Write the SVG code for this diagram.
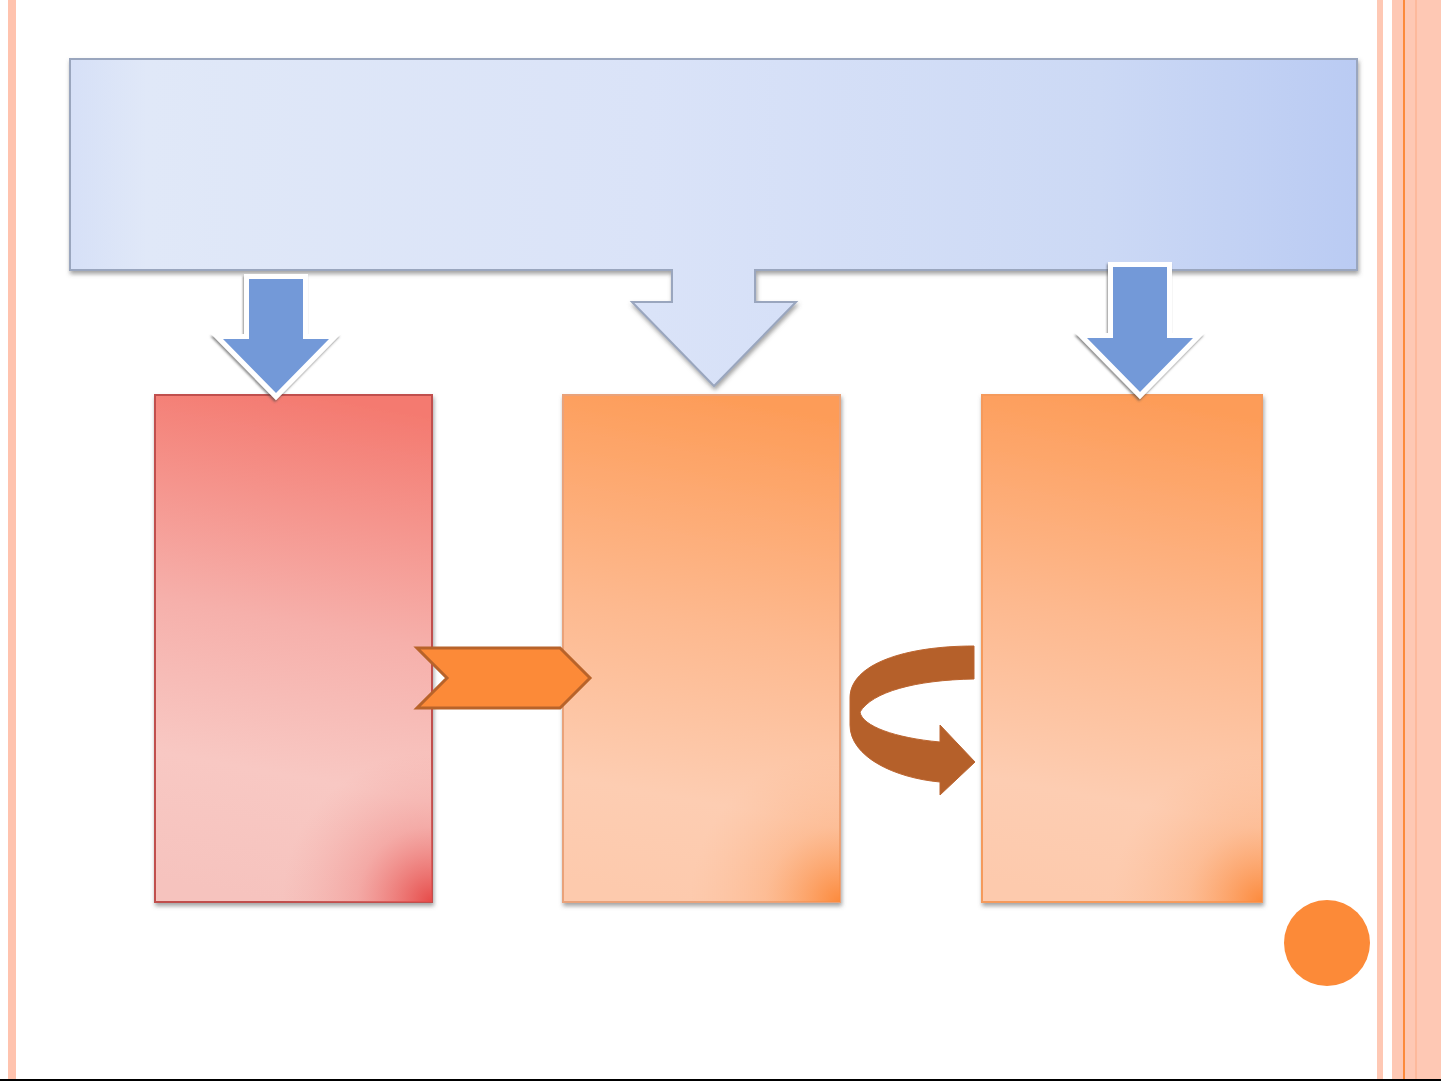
<svg xmlns="http://www.w3.org/2000/svg" width="1441" height="1081" viewBox="0 0 1441 1081">
<style>
.box{stroke-width:2}
.blue{fill:#7399D8;stroke:#FFFFFF;stroke-width:10;paint-order:stroke;stroke-linejoin:miter}
</style>
<defs>
<filter id="sh" x="-10%" y="-10%" width="120%" height="120%">
<feDropShadow dx="1" dy="3" stdDeviation="2" flood-color="#555" flood-opacity="0.55"/>
</filter>
<filter id="sh2" x="-20%" y="-20%" width="140%" height="140%">
<feDropShadow dx="-1" dy="2" stdDeviation="1.2" flood-color="#444" flood-opacity="0.6"/>
</filter>
<linearGradient id="gTop" x1="0" y1="0" x2="1" y2="0">
<stop offset="0" stop-color="#D6E0F7"/>
<stop offset="0.06" stop-color="#E0E8F8"/>
<stop offset="0.45" stop-color="#DAE3F8"/>
<stop offset="0.8" stop-color="#CCD9F5"/>
<stop offset="1" stop-color="#BACBF3"/>
</linearGradient>
<linearGradient id="gRed" x1="0.55" y1="0" x2="0.45" y2="1">
<stop offset="0" stop-color="#F47A70"/>
<stop offset="0.45" stop-color="#F6B0AB"/>
<stop offset="0.75" stop-color="#F8C8C3"/>
<stop offset="1" stop-color="#F6C3BE"/>
</linearGradient>
<radialGradient id="gRedC" gradientUnits="userSpaceOnUse" cx="432" cy="902" r="150">
<stop offset="0" stop-color="#E64A48" stop-opacity="1"/>
<stop offset="0.5" stop-color="#EE7775" stop-opacity="0.35"/>
<stop offset="1" stop-color="#F29A96" stop-opacity="0"/>
</radialGradient>
<linearGradient id="gOr" x1="0.55" y1="0" x2="0.45" y2="1">
<stop offset="0" stop-color="#FD9C58"/>
<stop offset="0.45" stop-color="#FDB98F"/>
<stop offset="0.8" stop-color="#FDCDB2"/>
<stop offset="1" stop-color="#FDCAAD"/>
</linearGradient>
<radialGradient id="gOrC1" gradientUnits="userSpaceOnUse" cx="840" cy="902" r="150">
<stop offset="0" stop-color="#FC8A3C" stop-opacity="1"/>
<stop offset="0.5" stop-color="#FCA266" stop-opacity="0.35"/>
<stop offset="1" stop-color="#FDB58A" stop-opacity="0"/>
</radialGradient>
<radialGradient id="gOrC2" gradientUnits="userSpaceOnUse" cx="1262" cy="902" r="150">
<stop offset="0" stop-color="#FC8A3C" stop-opacity="1"/>
<stop offset="0.5" stop-color="#FCA266" stop-opacity="0.35"/>
<stop offset="1" stop-color="#FDB58A" stop-opacity="0"/>
</radialGradient>
</defs>
<rect width="1441" height="1081" fill="#FFFFFF"/>
<g id="frame">
<rect x="8" y="0" width="8" height="1081" fill="#FFC3AE"/>
<rect x="1377" y="0" width="6" height="1081" fill="#FEC8B4"/>
<rect x="1392" y="0" width="49" height="1081" fill="#FEC8B4"/>
<rect x="1403" y="0" width="2" height="1081" fill="#FC8A3C"/>
<rect x="1415" y="0" width="2" height="1081" fill="#FDB99C"/>
<rect x="0" y="1079" width="1441" height="2" fill="#000000"/>
</g>
<g id="top">
<path d="M70,59 H1357 V270 H755 V302 H796 L714,386 L632,302 H672 V270 H70 Z" fill="url(#gTop)" stroke="#9AA6BE" stroke-width="2" filter="url(#sh)"/>
</g>
<g id="box-left">
<rect x="155" y="395" width="277" height="507" fill="url(#gRed)" stroke="#C0504D" class="box" filter="url(#sh)"/>
<rect x="155" y="395" width="277" height="507" fill="url(#gRedC)"/>
</g>
<g id="box-mid">
<rect x="563" y="395" width="277" height="507" fill="url(#gOr)" stroke="#E9A27A" class="box" filter="url(#sh)"/>
<rect x="563" y="395" width="277" height="507" fill="url(#gOrC1)"/>
</g>
<g id="box-right">
<rect x="982" y="395" width="280" height="507" fill="url(#gOr)" stroke="#F59A5C" class="box" filter="url(#sh)"/>
<rect x="982" y="395" width="280" height="507" fill="url(#gOrC2)"/>
</g>
<g id="connectors">
<path class="blue" filter="url(#sh2)" d="M249,279 H303 V339 H329 L276,393 L223,339 H249 Z"/>
<path class="blue" filter="url(#sh2)" d="M1113,267 H1167 V338 H1193 L1140,392 L1087,338 H1113 Z"/>
<path d="M417,648 H560 L590,678 L560,708 H417 L447,678 Z" fill="#FC8A38" stroke="#B8632A" stroke-width="3" stroke-linejoin="miter"/>
<path d="M974,646 C905,646 850,664 850,698 L850,725 C850,757 895,778 940,782 L940,795 L975,762 L940,725 L940,742 C895,738 862,726 860,712 C872,692 915,680 974,679 Z" fill="#B5602A" stroke="#BC6530" stroke-width="1"/>
</g>
<g id="dot">
<circle cx="1327" cy="943" r="43" fill="#FC8A38"/>
</g>
</svg>
